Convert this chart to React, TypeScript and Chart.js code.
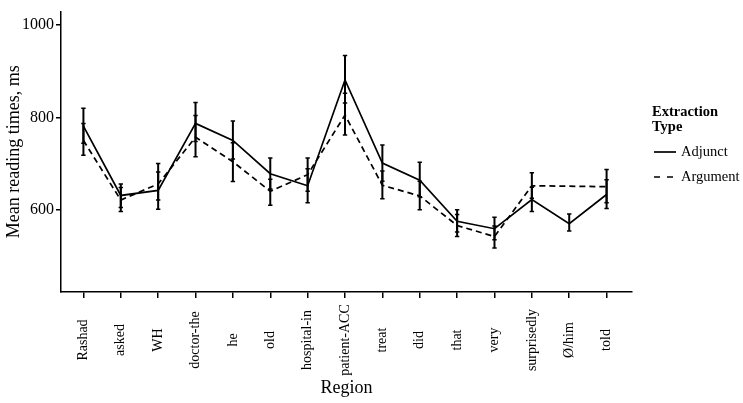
import React, { useEffect, useRef } from "react";
import { Chart, registerables } from "chart.js";

Chart.register(...registerables);

const FONT = '"Liberation Serif", "Times New Roman", serif';

const regions = [
  "Rashad", "asked", "WH", "doctor-the", "he", "old", "hospital-in", "patient-ACC",
  "treat", "did", "that", "very", "surprisedly", "Ø/him", "told",
];

const adjunctMean = [781, 631, 642, 787, 750, 678, 652, 881, 701, 664, 575, 559, 622, 570, 633];
const adjunctLow = [744, 605, 601, 748, 710, 645, 615, 831, 662, 628, 552, 535, 596, 554, 603];
const adjunctHigh = [820, 656, 700, 832, 792, 712, 689, 934, 740, 703, 600, 584, 649, 591, 665];

const argumentMean = [750, 621, 656, 757, 704, 640, 676, 805, 653, 630, 566, 542, 652, null, 650];
const argumentLow = [718, 596, 621, 715, 661, 610, 640, 762, 624, 600, 542, 517, 625, null, 615];
const argumentHigh = [787, 648, 682, 804, 745, 666, 712, 852, 684, 662, 590, 565, 680, null, 687];

const yTicks = [600, 800, 1000];

type Bars = { mean: (number | null)[]; low: (number | null)[]; high: (number | null)[] };
const errorSets: Bars[] = [
  { mean: adjunctMean, low: adjunctLow, high: adjunctHigh },
  { mean: argumentMean, low: argumentLow, high: argumentHigh },
];

// vertical error bars with small caps
const errorBarPlugin = {
  id: "errorBars",
  afterDatasetsDraw(chart: any) {
    const { ctx, scales } = chart;
    const xs = scales.x;
    const ys = scales.y;
    ctx.save();
    ctx.strokeStyle = "#000";
    errorSets.forEach((set) => {
      set.mean.forEach((m, i) => {
        const lo = set.low[i];
        const hi = set.high[i];
        if (m == null || lo == null || hi == null) return;
        const x = xs.getPixelForValue(i);
        const y1 = ys.getPixelForValue(lo);
        const y2 = ys.getPixelForValue(hi);
        ctx.lineWidth = 2;
        ctx.beginPath();
        ctx.moveTo(x, y1);
        ctx.lineTo(x, y2);
        ctx.stroke();
        ctx.lineWidth = 1.5;
        ctx.beginPath();
        ctx.moveTo(x - 2.2, y1);
        ctx.lineTo(x + 2.2, y1);
        ctx.moveTo(x - 2.2, y2);
        ctx.lineTo(x + 2.2, y2);
        ctx.stroke();
      });
    });
    ctx.restore();
  },
};

// rotated region labels, centred on one line like the original
const regionLabelPlugin = {
  id: "regionLabels",
  afterDraw(chart: any) {
    const { ctx, scales } = chart;
    const xs = scales.x;
    ctx.save();
    ctx.fillStyle = "#000";
    ctx.font = `14px ${FONT}`;
    ctx.textAlign = "center";
    ctx.textBaseline = "middle";
    regions.forEach((r, i) => {
      ctx.save();
      ctx.translate(xs.getPixelForValue(i), 340);
      ctx.rotate(-Math.PI / 2);
      ctx.fillText(r, 0, 0);
      ctx.restore();
    });
    ctx.restore();
  },
};

const LegendLine: React.FC<{ dashed?: boolean }> = ({ dashed }) => (
  <svg width={24} height={4} style={{ display: "block" }}>
    <line
      x1={1}
      y1={2}
      x2={23}
      y2={2}
      stroke="#000"
      strokeWidth={1.7}
      strokeDasharray={dashed ? "6 7" : undefined}
    />
  </svg>
);

const App: React.FC = () => {
  const canvasRef = useRef<HTMLCanvasElement>(null);
  const chartRef = useRef<Chart | null>(null);

  useEffect(() => {
    if (!canvasRef.current) return;
    if (chartRef.current) {
      chartRef.current.destroy();
      chartRef.current = null;
    }

    chartRef.current = new Chart(canvasRef.current, {
      type: "line",
      data: {
        datasets: [
          {
            label: "Adjunct",
            data: adjunctMean.map((y, i) => ({ x: i, y })),
            borderColor: "#000",
            borderWidth: 1.7,
            pointRadius: 0,
            tension: 0,
            fill: false,
          },
          {
            label: "Argument",
            data: argumentMean.map((y, i) => ({ x: i, y })) as any,
            borderColor: "#000",
            borderWidth: 1.7,
            borderDash: [6, 4],
            pointRadius: 0,
            tension: 0,
            fill: false,
            spanGaps: true,
          },
        ],
      },
      options: {
        animation: false,
        responsive: true,
        maintainAspectRatio: false,
        layout: { padding: { top: 3, right: 111, left: 0, bottom: 0 } },
        plugins: { legend: { display: false }, tooltip: { enabled: false } },
        scales: {
          x: {
            type: "linear",
            min: -0.6,
            max: 14.68,
            afterFit: (s: any) => {
              s.height = 111;
            },
            ticks: { display: false, stepSize: 1, includeBounds: false },
            grid: {
              drawOnChartArea: false,
              drawTicks: true,
              tickLength: 6,
              color: "#000",
              lineWidth: 1.5,
            },
            border: { display: true, color: "#000", width: 1.5 },
            title: {
              display: true,
              text: "Region",
              color: "#000",
              font: { family: FONT, size: 18 },
              padding: { top: 4, bottom: 4 },
            },
          },
          y: {
            min: 422,
            max: 1029,
            afterFit: (s: any) => {
              s.width = 61;
            },
            afterBuildTicks: (s: any) => {
              s.ticks = yTicks.map((v) => ({ value: v }));
            },
            ticks: {
              color: "#000",
              font: { family: FONT, size: 16 },
              padding: 2,
              callback: (v: any) => String(v),
            },
            grid: {
              drawOnChartArea: false,
              drawTicks: true,
              tickLength: 5,
              color: "#000",
              lineWidth: 1.5,
            },
            border: { display: true, color: "#000", width: 1.5 },
            title: {
              display: true,
              text: "Mean reading times, ms",
              color: "#000",
              font: { family: FONT, size: 18 },
              padding: { top: 3, bottom: 4 },
            },
          },
        },
      },
      plugins: [errorBarPlugin, regionLabelPlugin],
    });

    return () => {
      if (chartRef.current) {
        chartRef.current.destroy();
        chartRef.current = null;
      }
    };
  }, []);

  const legendText: React.CSSProperties = {
    position: "absolute",
    fontFamily: FONT,
    fontSize: 14.5,
    color: "#000",
    lineHeight: "15px",
    whiteSpace: "nowrap",
  };

  return (
    <div
      style={{
        position: "absolute",
        left: 0,
        top: 0,
        width: 743,
        height: 403,
        background: "#fff",
      }}
    >
      <canvas ref={canvasRef}></canvas>
      <div style={{ ...legendText, left: 652, top: 104, fontWeight: "bold" }}>
        Extraction
        <br />
        Type
      </div>
      <div style={{ position: "absolute", left: 653, top: 150 }}>
        <LegendLine />
      </div>
      <div style={{ ...legendText, left: 681, top: 144 }}>Adjunct</div>
      <div style={{ position: "absolute", left: 653, top: 175 }}>
        <LegendLine dashed />
      </div>
      <div style={{ ...legendText, left: 681, top: 169 }}>Argument</div>
    </div>
  );
};

export default App;
